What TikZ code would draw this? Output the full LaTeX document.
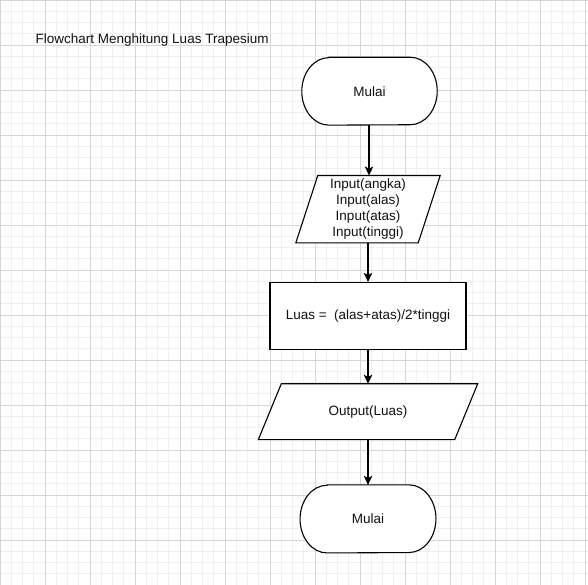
\documentclass[tikz,border=0pt]{standalone}
\usepackage{fontspec}
\setmainfont{Liberation Sans}
\usetikzlibrary{arrows.meta}
\definecolor{gridminor}{HTML}{F0F0F0}
\definecolor{gridmajor}{HTML}{D6D6D6}
\definecolor{txt}{HTML}{111111}
\tikzset{
  lbl/.style={inner sep=0pt, text=txt, font=\fontsize{13.5}{16.2}\selectfont, align=center},
  box/.style={lbl, draw=none, minimum width=#1},
  shapeline/.style={draw=black, line width=1.1pt, fill=white, line join=miter},
  conn/.style={draw=black, line width=1.1pt, -{Stealth[length=9pt,width=8.5pt,inset=2.2pt]}},
}
\begin{document}
\begin{tikzpicture}[x=1pt,y=1pt]
\useasboundingbox (0,0) rectangle (588,585);
\fill[white] (0,0) rectangle (588,585);
\draw[gridminor, line width=0.8pt, step=11.25] (0,0) grid (588,585);
\draw[gridmajor, line width=0.8pt, step=45] (0,0) grid (588,585);

\node[lbl, anchor=west] (title) at (35.5,545) {Flowchart Menghitung Luas Trapesium};

% Start terminator
\node[box=135, minimum height=67.5] (start) at (369.5,493.8) {};
\draw[shapeline] ([xshift=27]start.north west) -- ([xshift=-27]start.north east)
  arc[start angle=90,end angle=-90,x radius=27,y radius=33.75]
  -- ([xshift=27]start.south west)
  arc[start angle=270,end angle=90,x radius=27,y radius=33.75] -- cycle;
\node[lbl] (startt) at (start) {Mulai};

% Input parallelogram
\node[box=122, minimum height=67] (inp) at (368,375.8) {};
\draw[shapeline] ([xshift=-11]inp.south west) -- ([xshift=11]inp.north west)
  -- ([xshift=11]inp.north east) -- ([xshift=-11]inp.south east) -- cycle;
\node[lbl] (inpt) at (inp) {Input(angka)\\Input(alas)\\Input(atas)\\Input(tinggi)};

% Process
\node[box=196, minimum height=67.5, shapeline] (proc) at (368,268.8) {};
\node[lbl] (proct) at (proc) {Luas =~~(alas+atas)/2*tinggi};

% Output parallelogram
\node[box=196, minimum height=55.5] (outp) at (368,173.3) {};
\draw[shapeline] ([xshift=-11.5]outp.south west) -- ([xshift=11.5]outp.north west)
  -- ([xshift=11.5]outp.north east) -- ([xshift=-11.5]outp.south east) -- cycle;
\node[lbl] (outpt) at (outp) {Output(Luas)};

% End terminator
\node[box=135.5, minimum height=67.7] (stop) at (368,66.1) {};
\draw[shapeline] ([xshift=27]stop.north west) -- ([xshift=-27]stop.north east)
  arc[start angle=90,end angle=-90,x radius=27,y radius=33.85]
  -- ([xshift=27]stop.south west)
  arc[start angle=270,end angle=90,x radius=27,y radius=33.85] -- cycle;
\node[lbl] (stopt) at (stop) {Mulai};

% Connectors
\draw[conn] ([xshift=-0.5]start.south) -- ([xshift=1]inp.north);
\draw[conn] (inp.south) -- (proc.north);
\draw[conn] (proc.south) -- (outp.north);
\draw[conn] (outp.south) -- (stop.north);
\end{tikzpicture}
\end{document}
